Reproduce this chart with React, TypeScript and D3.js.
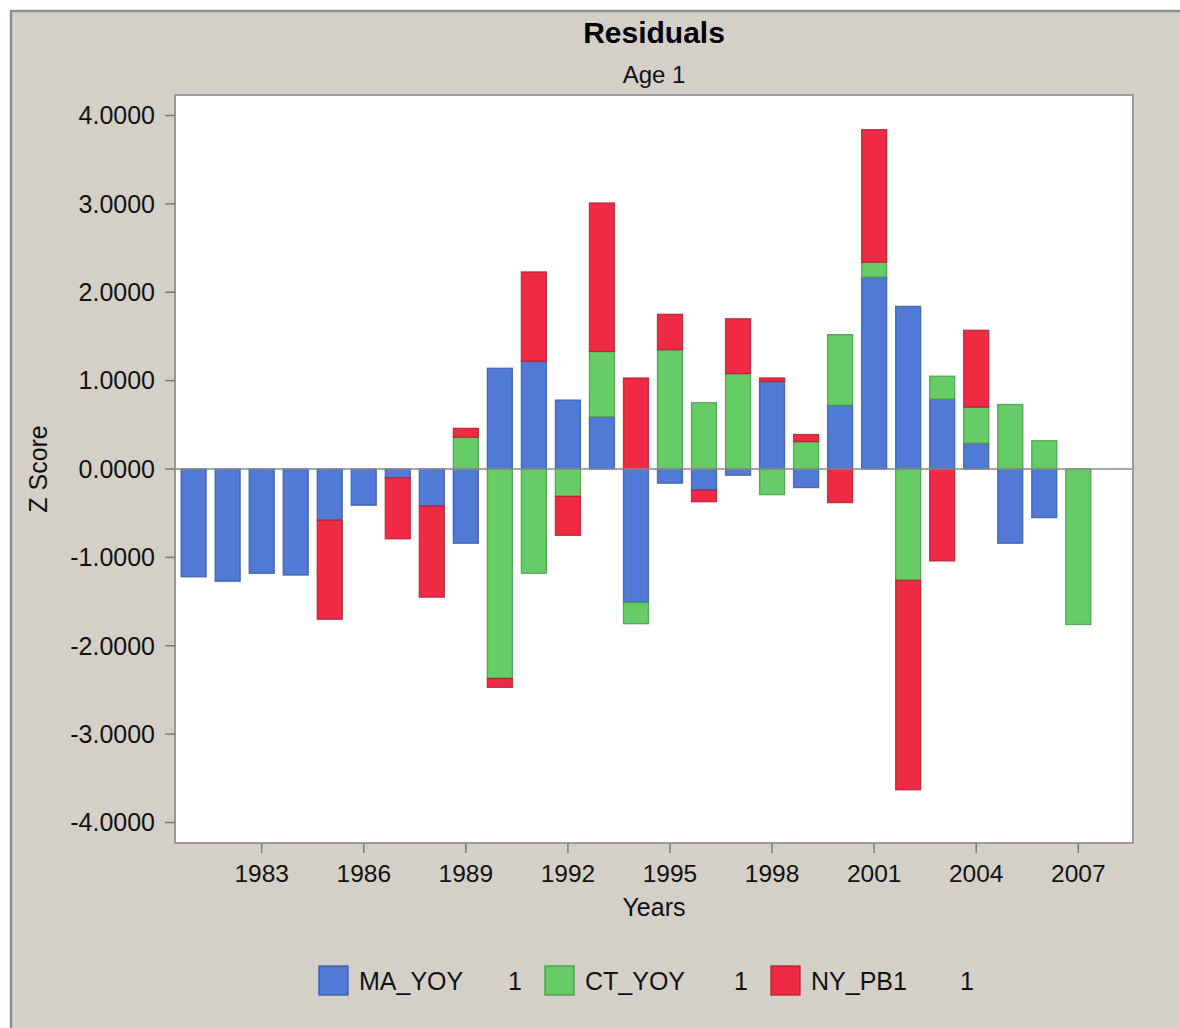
import * as d3 from "d3";

const years = [
  1981, 1982, 1983, 1984, 1985, 1986, 1987, 1988, 1989, 1990, 1991, 1992, 1993, 1994,
  1995, 1996, 1997, 1998, 1999, 2000, 2001, 2002, 2003, 2004, 2005, 2006, 2007,
];

const maYoy = [
  -1.22, -1.27, -1.18, -1.2, -0.58, -0.41, -0.1, -0.42, -0.84, 1.14, 1.22, 0.78, 0.59, -1.51,
  -0.16, -0.24, -0.07, 0.99, -0.21, 0.72, 2.17, 1.84, 0.79, 0.29, -0.84, -0.55, 0,
];

const ctYoy = [
  0, 0, 0, 0, 0, 0, 0, 0, 0.36, -2.37, -1.18, -0.31, 0.74, -0.24,
  1.35, 0.75, 1.08, -0.29, 0.31, 0.8, 0.17, -1.26, 0.26, 0.41, 0.73, 0.32, -1.76,
];

const nyPb1 = [
  0, 0, 0, 0, -1.12, 0, -0.69, -1.03, 0.1, -0.1, 1.01, -0.44, 1.68, 1.03,
  0.4, -0.13, 0.62, 0.04, 0.08, -0.38, 1.5, -2.37, -1.04, 0.87, 0, 0, 0,
];

const seriesNames = ["MA_YOY", "CT_YOY", "NY_PB1"];
const legendSuffix = ["1", "1", "1"];
const yTicks = [4, 3, 2, 1, 0, -1, -2, -3, -4];
const xTicks = [1983, 1986, 1989, 1992, 1995, 1998, 2001, 2004, 2007];

const fills = ["#507ad5", "#66cc66", "#ee2b43"];
const strokes = ["#3b5ca8", "#4a9a4a", "#b52235"];

const FONT = "'Liberation Sans', Arial, Helvetica, sans-serif";
const W = 1180;
const H = 1028;
const plot = { left: 175, right: 1133, top: 95, bottom: 843 };
const BAR_YEARS = 0.735;

type Row = { year: number; [key: string]: number };

// hyphen minus like the original, not d3's unicode minus
const fmtTick = (v: number) => v.toFixed(4);

export default function App() {
  const x = d3.scaleLinear().domain([1980.452, 2008.608]).range([plot.left, plot.right]);
  const y = d3.scaleLinear().domain([-4.232, 4.232]).range([plot.bottom, plot.top]);

  const rows: Row[] = years.map((year, i) => ({
    year,
    MA_YOY: maYoy[i],
    CT_YOY: ctYoy[i],
    NY_PB1: nyPb1[i],
  }));

  const stacked = d3
    .stack<Row>()
    .keys(seriesNames)
    .offset(d3.stackOffsetDiverging)(rows);

  const cx = (plot.left + plot.right) / 2;

  return (
    <svg
      width={W}
      height={H}
      viewBox={`0 0 ${W} ${H}`}
      style={{ position: "absolute", left: 0, top: 0, display: "block", background: "#ffffff" }}
      fontFamily={FONT}
    >
      <rect x={11} y={11} width={W} height={H} fill="#d4d0c8" stroke="#8e8e8e" strokeWidth={2.5} />

      <text x={cx} y={43} textAnchor="middle" fontSize={30} fontWeight="bold" fill="#000">
        Residuals
      </text>
      <text x={cx} y={83} textAnchor="middle" fontSize={24} fill="#111">
        Age 1
      </text>

      <rect
        x={plot.left}
        y={plot.top}
        width={plot.right - plot.left}
        height={plot.bottom - plot.top}
        fill="#ffffff"
      />

      {stacked.map((layer, si) => (
        <g key={layer.key}>
          {layer
            .filter((d) => d[1] - d[0] !== 0)
            .map((d) => {
              const yr = d.data.year;
              const x0 = x(yr - BAR_YEARS / 2);
              const x1 = x(yr + BAR_YEARS / 2);
              const yTop = y(Math.max(d[0], d[1]));
              const yBot = y(Math.min(d[0], d[1]));
              return (
                <rect
                  key={yr}
                  x={x0}
                  y={yTop}
                  width={x1 - x0}
                  height={yBot - yTop}
                  fill={fills[si]}
                  stroke={strokes[si]}
                  strokeWidth={1.3}
                  strokeOpacity={0.85}
                />
              );
            })}
        </g>
      ))}

      <line x1={plot.left} x2={plot.right} y1={y(0)} y2={y(0)} stroke="#8a8a8a" strokeWidth={1.6} />

      <rect
        x={plot.left}
        y={plot.top}
        width={plot.right - plot.left}
        height={plot.bottom - plot.top}
        fill="none"
        stroke="#9a9a9a"
        strokeWidth={2}
      />

      {yTicks.map((t) => (
        <g key={t}>
          <line x1={plot.left - 10} x2={plot.left} y1={y(t)} y2={y(t)} stroke="#7a7a7a" strokeWidth={1.5} />
          <text x={155} y={y(t) + 8.8} textAnchor="end" fontSize={25} fill="#111">
            {fmtTick(t)}
          </text>
        </g>
      ))}

      {xTicks.map((t) => (
        <g key={t}>
          <line x1={x(t)} x2={x(t)} y1={plot.bottom} y2={plot.bottom + 10} stroke="#7a7a7a" strokeWidth={1.5} />
          <text x={x(t)} y={882} textAnchor="middle" fontSize={24.5} fill="#111">
            {t}
          </text>
        </g>
      ))}

      <text x={cx} y={916} textAnchor="middle" fontSize={25} fill="#111">
        Years
      </text>
      <text
        transform={`translate(47,${y(0)}) rotate(-90)`}
        textAnchor="middle"
        fontSize={25}
        fill="#111"
      >
        Z Score
      </text>

      {seriesNames.map((name, i) => {
        const lx = 319 + i * 226;
        return (
          <g key={name}>
            <rect x={lx} y={966} width={29} height={29} fill={fills[i]} stroke={strokes[i]} strokeWidth={1.3} />
            <text x={lx + 40} y={990} fontSize={25} fill="#111">
              {name}
            </text>
            <text x={lx + 203} y={990} textAnchor="end" fontSize={25} fill="#111">
              {legendSuffix[i]}
            </text>
          </g>
        );
      })}
    </svg>
  );
}
